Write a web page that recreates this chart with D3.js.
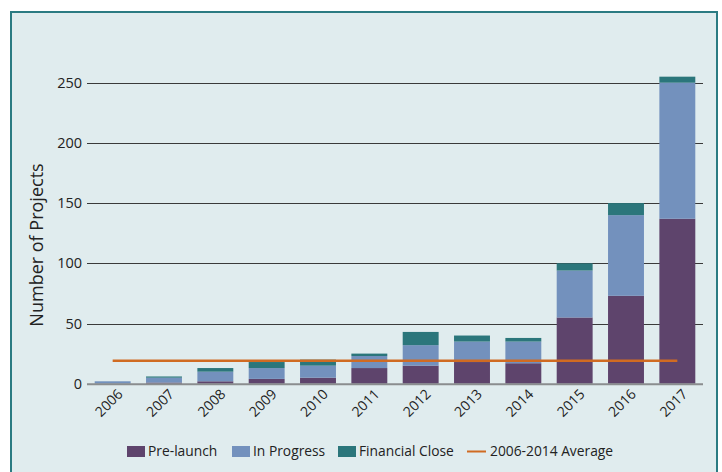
<!DOCTYPE html>
<html>
<head>
<meta charset="utf-8">
<script src="https://cdn.jsdelivr.net/npm/d3@7"></script>
<style>
  html, body { margin: 0; padding: 0; background: #ffffff; }
  svg { display: block; font-family: 'Open Sans', 'Noto Sans', sans-serif; }
</style>
</head>
<body>
<svg width="722" height="472"></svg>
<script>
const years = ['2006', '2007', '2008', '2009', '2010', '2011', '2012', '2013', '2014', '2015', '2016', '2017'];
const preLaunch = [0, 1, 2, 4, 5, 13, 15, 18, 17, 55, 73, 137];
const inProgress = [2, 4, 8, 9, 10, 10, 17, 17, 18, 39, 67, 113];
const financialClose = [0, 1, 3, 5, 5, 2, 11, 5, 3, 6, 10, 5];
const average = 19;
const yTicks = [0, 50, 100, 150, 200, 250];

const seriesNames = ['Pre-launch', 'In Progress', 'Financial Close'];
const seriesColours = ['#5e446c', '#7391bd', '#2b767b'];
const avgLabel = '2006-2014 Average';
const avgColour = '#d06b22';

const svg = d3.select('svg');

// panel
svg.append('rect')
    .attr('x', 11)
    .attr('y', 12)
    .attr('width', 706)
    .attr('height', 470)
    .attr('fill', '#e0ecee')
    .attr('stroke', '#2b7b82')
    .attr('stroke-width', 2);

const LEFT = 87;
const RIGHT = 703;
const X_SCALE = d3.scaleBand()
    .domain(years)
    .range([LEFT, RIGHT])
    .paddingInner(0.3)
    .paddingOuter(0.15);

const Y_SCALE = d3.scaleLinear()
    .domain([0, 250])
    .range([383.7, 82.7]);

// gridlines
svg.append('g')
    .selectAll('line')
    .data(yTicks.filter(d => d > 0))
    .join('line')
    .attr('x1', LEFT)
    .attr('x2', RIGHT)
    .attr('y1', d => Math.round(Y_SCALE(d)) + 0.5)
    .attr('y2', d => Math.round(Y_SCALE(d)) + 0.5)
    .attr('stroke', '#3a3a3a')
    .attr('stroke-width', 1);

svg.append('g')
    .selectAll('text')
    .data(yTicks)
    .join('text')
    .text(d => d)
    .attr('x', 82)
    .attr('y', d => Y_SCALE(d))
    .attr('dy', '0.35em')
    .style('text-anchor', 'end')
    .style('font-size', '14.5px')
    .style('fill', '#222');

// stacked bars
const table = years.map((y, i) => ({
    year: y,
    'Pre-launch': preLaunch[i],
    'In Progress': inProgress[i],
    'Financial Close': financialClose[i]
}));
const stacked = d3.stack().keys(seriesNames)(table);

svg.append('g')
    .selectAll('g')
    .data(stacked)
    .join('g')
    .attr('fill', (d, i) => seriesColours[i])
    .selectAll('rect')
    .data(d => d)
    .join('rect')
    .attr('x', d => X_SCALE(d.data.year))
    .attr('width', X_SCALE.bandwidth())
    .attr('y', d => Y_SCALE(d[1]))
    .attr('height', d => Y_SCALE(d[0]) - Y_SCALE(d[1]));

// baseline
svg.append('line')
    .attr('x1', LEFT)
    .attr('x2', RIGHT)
    .attr('y1', Y_SCALE(0) + 0.5)
    .attr('y2', Y_SCALE(0) + 0.5)
    .attr('stroke', '#8a8d8e')
    .attr('stroke-width', 2);

// average line
const half = X_SCALE.bandwidth() / 2;
svg.append('line')
    .attr('x1', X_SCALE(years[0]) + half)
    .attr('x2', X_SCALE(years[years.length - 1]) + half)
    .attr('y1', Y_SCALE(average))
    .attr('y2', Y_SCALE(average))
    .attr('stroke', avgColour)
    .attr('stroke-width', 2.5);

// x labels
svg.append('g')
    .selectAll('text')
    .data(years)
    .join('text')
    .text(d => d)
    .attr('transform', d => `translate(${X_SCALE(d) + half + 11},${395}) rotate(-45)`)
    .style('text-anchor', 'end')
    .style('font-size', '14px')
    .style('fill', '#222');

// y title
svg.append('text')
    .text('Number of Projects')
    .attr('transform', 'translate(43,245) rotate(-90)')
    .style('text-anchor', 'middle')
    .style('font-size', '18px')
    .style('fill', '#222');

// legend
const legendItems = [
    { label: seriesNames[0], colour: seriesColours[0], x: 127, type: 'box' },
    { label: seriesNames[1], colour: seriesColours[1], x: 232, type: 'box' },
    { label: seriesNames[2], colour: seriesColours[2], x: 338, type: 'box' },
    { label: avgLabel, colour: avgColour, x: 467, type: 'line' }
];
const LEGEND_Y = 451.5;
const legend = svg.append('g')
    .selectAll('g')
    .data(legendItems)
    .join('g')
    .attr('transform', d => `translate(${d.x},${LEGEND_Y})`);

legend.filter(d => d.type === 'box')
    .append('rect')
    .attr('x', 0)
    .attr('y', -5.5)
    .attr('width', 18)
    .attr('height', 11)
    .attr('fill', d => d.colour);

legend.filter(d => d.type === 'line')
    .append('line')
    .attr('x1', 0)
    .attr('x2', 19)
    .attr('y1', 0)
    .attr('y2', 0)
    .attr('stroke', d => d.colour)
    .attr('stroke-width', 2);

legend.append('text')
    .text(d => d.label)
    .attr('x', d => d.type === 'box' ? 21 : 23)
    .attr('y', 0)
    .attr('dy', '0.35em')
    .style('font-size', '13.8px')
    .style('fill', '#222');
</script>
</body>
</html>
